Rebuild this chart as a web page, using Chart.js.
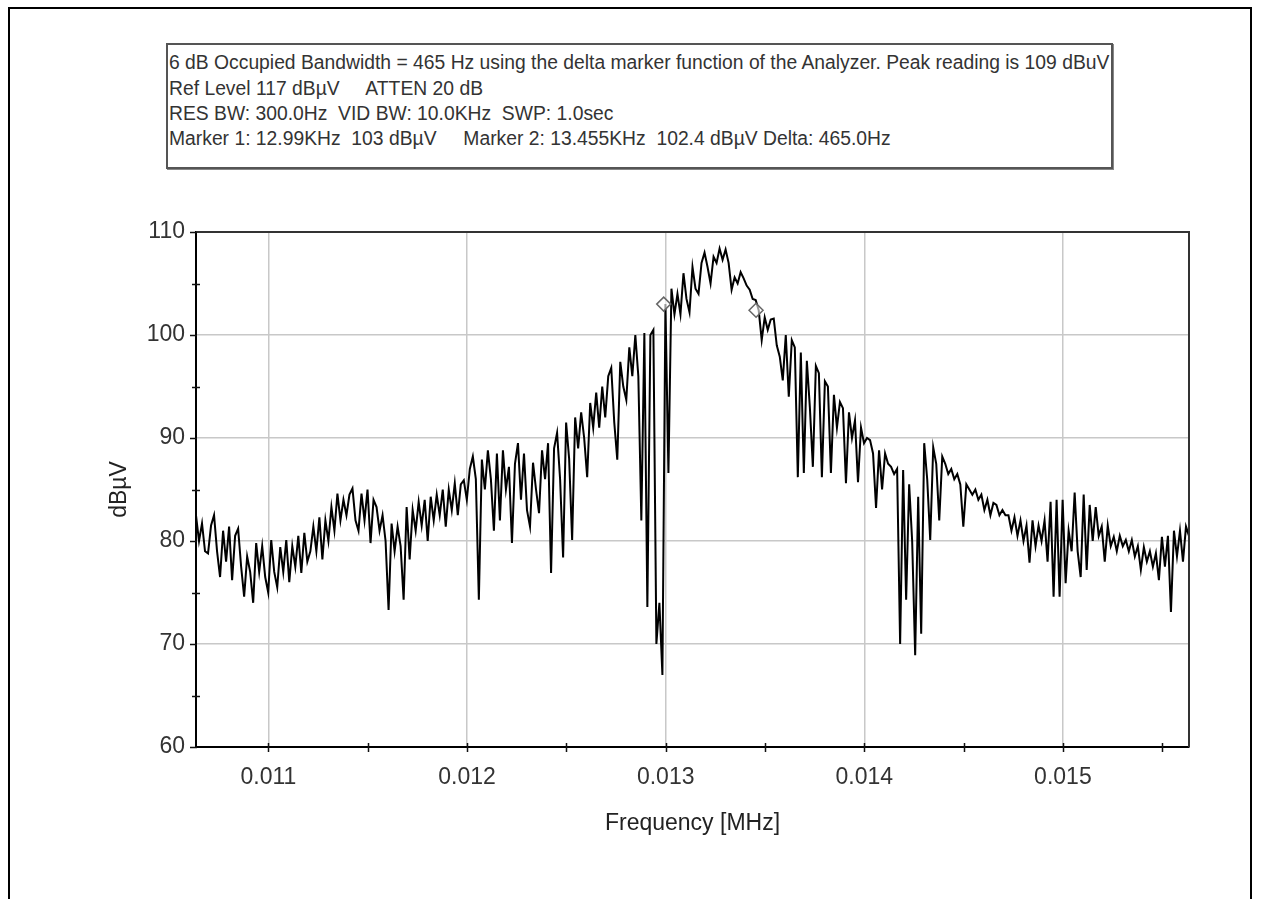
<!DOCTYPE html>
<html>
<head>
<meta charset="utf-8">
<script src="https://cdn.jsdelivr.net/npm/chart.js@4.4.1/dist/chart.umd.min.js"></script>
<style>
  html, body { margin: 0; padding: 0; background: #fff; }
  #page { position: relative; width: 1262px; height: 899px; overflow: hidden; }
  #frame { position: absolute; left: 8px; top: 7px; width: 1240px; height: 900px;
           border-top: 2px solid #000; border-left: 2px solid #000; border-right: 2px solid #000; }
  #info { position: absolute; left: 166px; top: 43px; width: 943px; height: 122px;
          border: 2px solid #555; box-shadow: 1px 1px 0 #888;
          font-family: "Liberation Sans", Arial, sans-serif; font-size: 20px; color: #333; }
  #info div { position: absolute; left: 1px; white-space: pre; line-height: 22px;
              transform: scaleX(0.965); transform-origin: left center; }
  #chartBox { position: absolute; left: 0; top: 0; width: 1262px; height: 899px; }
</style>
</head>
<body>
<div id="page">
  <div id="frame"></div>
  <div id="info">
    <div style="top:6px">6 dB Occupied Bandwidth = 465 Hz using the delta marker function of the Analyzer. Peak reading is 109 dBuV</div>
    <div style="top:32px">Ref Level 117 dBµV     ATTEN 20 dB</div>
    <div style="top:57px">RES BW: 300.0Hz  VID BW: 10.0KHz  SWP: 1.0sec</div>
    <div style="top:82px">Marker 1: 12.99KHz  103 dBµV     Marker 2: 13.455KHz  102.4 dBµV Delta: 465.0Hz</div>
  </div>
  <div id="chartBox"><canvas id="spectrum" width="1262" height="899"></canvas></div>
</div>
<script>
// sweep settings (MHz)
const sweepStartMHz = 0.010635;
const sweepStopMHz = 0.015635;

// trace readings in dBuV, one per sweep point
const levelDbuV = [
  82.5, 80, 81.7, 79, 78.8, 81.5, 82.5, 79, 76.5, 81,
  78, 81.4, 76.2, 80.5, 81.2, 77.5, 74.6, 78.5, 77, 74,
  79.8, 77, 79.5, 76.5, 75, 80.1, 77, 75.5, 79.4, 77,
  80.1, 76, 79.5, 77.5, 80.5, 76.9, 80.8, 78, 79, 81.4,
  79, 82.3, 78.2, 82, 80, 83.3, 81, 84.6, 82, 84,
  82.5, 84.5, 85.1, 82, 81, 84.6, 82, 85, 79.8, 84,
  83.3, 81, 82.5, 80, 73.3, 81.7, 79, 81.4, 79.5, 74.3,
  83.3, 78.2, 83, 81, 83.8, 81.5, 84, 80, 84.3, 82,
  84.5, 82.5, 85, 81.4, 85, 83, 85.6, 82.5, 85.5, 85.9,
  84, 87, 88.2, 86, 74.3, 87.9, 85, 88.8, 86, 81,
  88.5, 82, 88.8, 85, 87.2, 79.8, 87.5, 89.5, 84, 88.5,
  83, 81.4, 87.6, 85, 82.7, 88.8, 86, 89.5, 76.9, 89,
  90.5, 86, 78.4, 91.5, 88, 80.1, 92, 89, 92.5, 90,
  86.2, 93.4, 91, 94.4, 91, 95, 92, 96, 96.8, 91.5,
  87.9, 97.4, 95, 93.7, 98.8, 96, 100, 96, 82, 100.2,
  73.6, 100, 100.5, 70, 74, 67, 103, 86.6, 104.5, 102,
  104, 102, 106, 103.5, 102.2, 106.6, 104.5, 104, 107, 108,
  106.6, 105, 107.6, 107, 108.4, 107.3, 108.3, 107, 104.4, 105.6,
  105, 106.1, 105.5, 104.8, 104.4, 103.5, 103.4, 102.4, 99.5, 101.7,
  100.5, 101.5, 101.6, 99, 97.9, 95.6, 100, 94, 99.5, 98.8,
  86.2, 98.3, 86.6, 97.5, 93, 87.2, 97, 96.3, 86.2, 95.5,
  95, 86.6, 94.2, 91, 93.5, 92.9, 85.6, 92.5, 90, 91.7,
  85.7, 91, 89.5, 90, 89.8, 88.5, 83.2, 88.8, 85, 88.5,
  87.5, 87.2, 86.5, 87, 70, 86.9, 74.3, 85.5, 80, 68.9,
  84.3, 71, 89.5, 86, 80.1, 89.1, 87.5, 82, 88.2, 87.5,
  86.5, 87, 86, 86.5, 85.5, 81.4, 85.5, 85, 84.5, 85,
  84, 84.5, 83, 84, 82.5, 83.7, 83.5, 82.5, 83, 82.5,
  82.5, 81, 82.3, 80.5, 82, 80, 81.5, 77.9, 82, 79.5,
  81.5, 80, 82, 78, 83.8, 74.6, 84, 74.6, 84, 75.9,
  81, 79, 84.7, 79, 76.5, 84.5, 77.2, 83.5, 80, 83.3,
  80.5, 81.4, 78, 81.5, 79.5, 80.4, 79, 80.5, 79.5, 80.1,
  79, 80.1, 78.5, 79.5, 77.2, 79.4, 78, 79, 77.5, 78.8,
  76.2, 80.4, 77.5, 80.5, 73.1, 81, 78.5, 81, 78, 81.4,
  80.5
];

// delta markers
const markerFreqMHz = [0.01299, 0.013455];
const markerLevel = [103, 102.4];

// axis ticks
const xTicksMHz = [0.011, 0.012, 0.013, 0.014, 0.015];
const xMinorMHz = [0.0115, 0.0125, 0.0135, 0.0145, 0.0155];
const yTicks = [60, 70, 80, 90, 100, 110];
const yMinor = [65, 75, 85, 95, 105];

const sweepStep = (sweepStopMHz - sweepStartMHz) / (levelDbuV.length - 1);
const tracePoints = levelDbuV.map((v, i) => ({ x: sweepStartMHz + i * sweepStep, y: v }));
const markerPoints = markerFreqMHz.map((f, i) => ({ x: f, y: markerLevel[i] }));

const font = { family: "'Liberation Sans', Arial, sans-serif", size: 23 };

// plot frame plus the tick marks that cross the axes
const frameAndTicks = {
  id: "frameAndTicks",
  afterDraw(chart) {
    const { ctx, chartArea: a, scales } = chart;
    ctx.save();
    ctx.strokeStyle = "#333";
    ctx.lineWidth = 2;
    ctx.beginPath();
    ctx.moveTo(a.left, a.top);
    ctx.lineTo(a.right, a.top);
    ctx.lineTo(a.right, a.bottom);
    ctx.stroke();

    ctx.strokeStyle = "#111";
    ctx.lineWidth = 1.5;
    ctx.beginPath();
    xTicksMHz.concat(xMinorMHz).forEach(v => {
      const px = Math.round(scales.x.getPixelForValue(v)) + 0.5;
      ctx.moveTo(px, a.bottom - 4);
      ctx.lineTo(px, a.bottom + 5);
    });
    yTicks.forEach(v => {
      const py = Math.round(scales.y.getPixelForValue(v)) + 0.5;
      ctx.moveTo(a.left - 6, py);
      ctx.lineTo(a.left + 1, py);
    });
    yMinor.forEach(v => {
      const py = Math.round(scales.y.getPixelForValue(v)) + 0.5;
      ctx.moveTo(a.left - 4, py);
      ctx.lineTo(a.left + 4, py);
    });
    ctx.stroke();
    ctx.restore();
  }
};

new Chart(document.getElementById("spectrum"), {
  type: "line",
  data: {
    datasets: [
      {
        data: markerPoints,
        showLine: false,
        pointStyle: "rectRot",
        pointRadius: 7,
        pointBorderColor: "#666",
        pointBorderWidth: 1.5,
        pointBackgroundColor: "rgba(255,255,255,0.6)",
      },
      {
        data: tracePoints,
        borderColor: "#000",
        borderWidth: 2,
        pointRadius: 0,
        tension: 0,
        fill: false,
      },
    ],
  },
  options: {
    responsive: false,
    animation: false,
    layout: { padding: { top: 232, right: 73, bottom: 62, left: 96 } },
    scales: {
      x: {
        type: "linear",
        min: sweepStartMHz,
        max: sweepStopMHz,
        afterBuildTicks: (axis) => {
          axis.ticks = xTicksMHz.map(v => ({ value: v }));
        },
        afterFit: (axis) => { axis.height = 90; },
        grid: { color: "#c8c8c8", lineWidth: 1.5, drawTicks: false },
        border: { display: true, color: "#000", width: 2 },
        ticks: {
          color: "#333",
          font: font,
          padding: 17,
          maxRotation: 0,
          callback: (value) => value.toFixed(3),
        },
        title: {
          display: true,
          text: "Frequency [MHz]",
          color: "#222",
          font: font,
          padding: { top: 0, bottom: 0 },
        },
      },
      y: {
        min: 60,
        max: 110,
        afterBuildTicks: (axis) => {
          axis.ticks = yTicks.map(v => ({ value: v }));
        },
        afterFit: (axis) => { axis.width = 100; },
        grid: { color: "#c8c8c8", lineWidth: 1.5, drawTicks: false },
        border: { display: true, color: "#000", width: 2 },
        ticks: { color: "#333", font: font, padding: 11 },
        title: {
          display: true,
          text: "dBµV",
          color: "#222",
          font: font,
          padding: { top: 10, bottom: 0 },
        },
      },
    },
    plugins: {
      legend: { display: false },
      tooltip: { enabled: false },
    },
  },
  plugins: [frameAndTicks],
});
</script>
</body>
</html>
